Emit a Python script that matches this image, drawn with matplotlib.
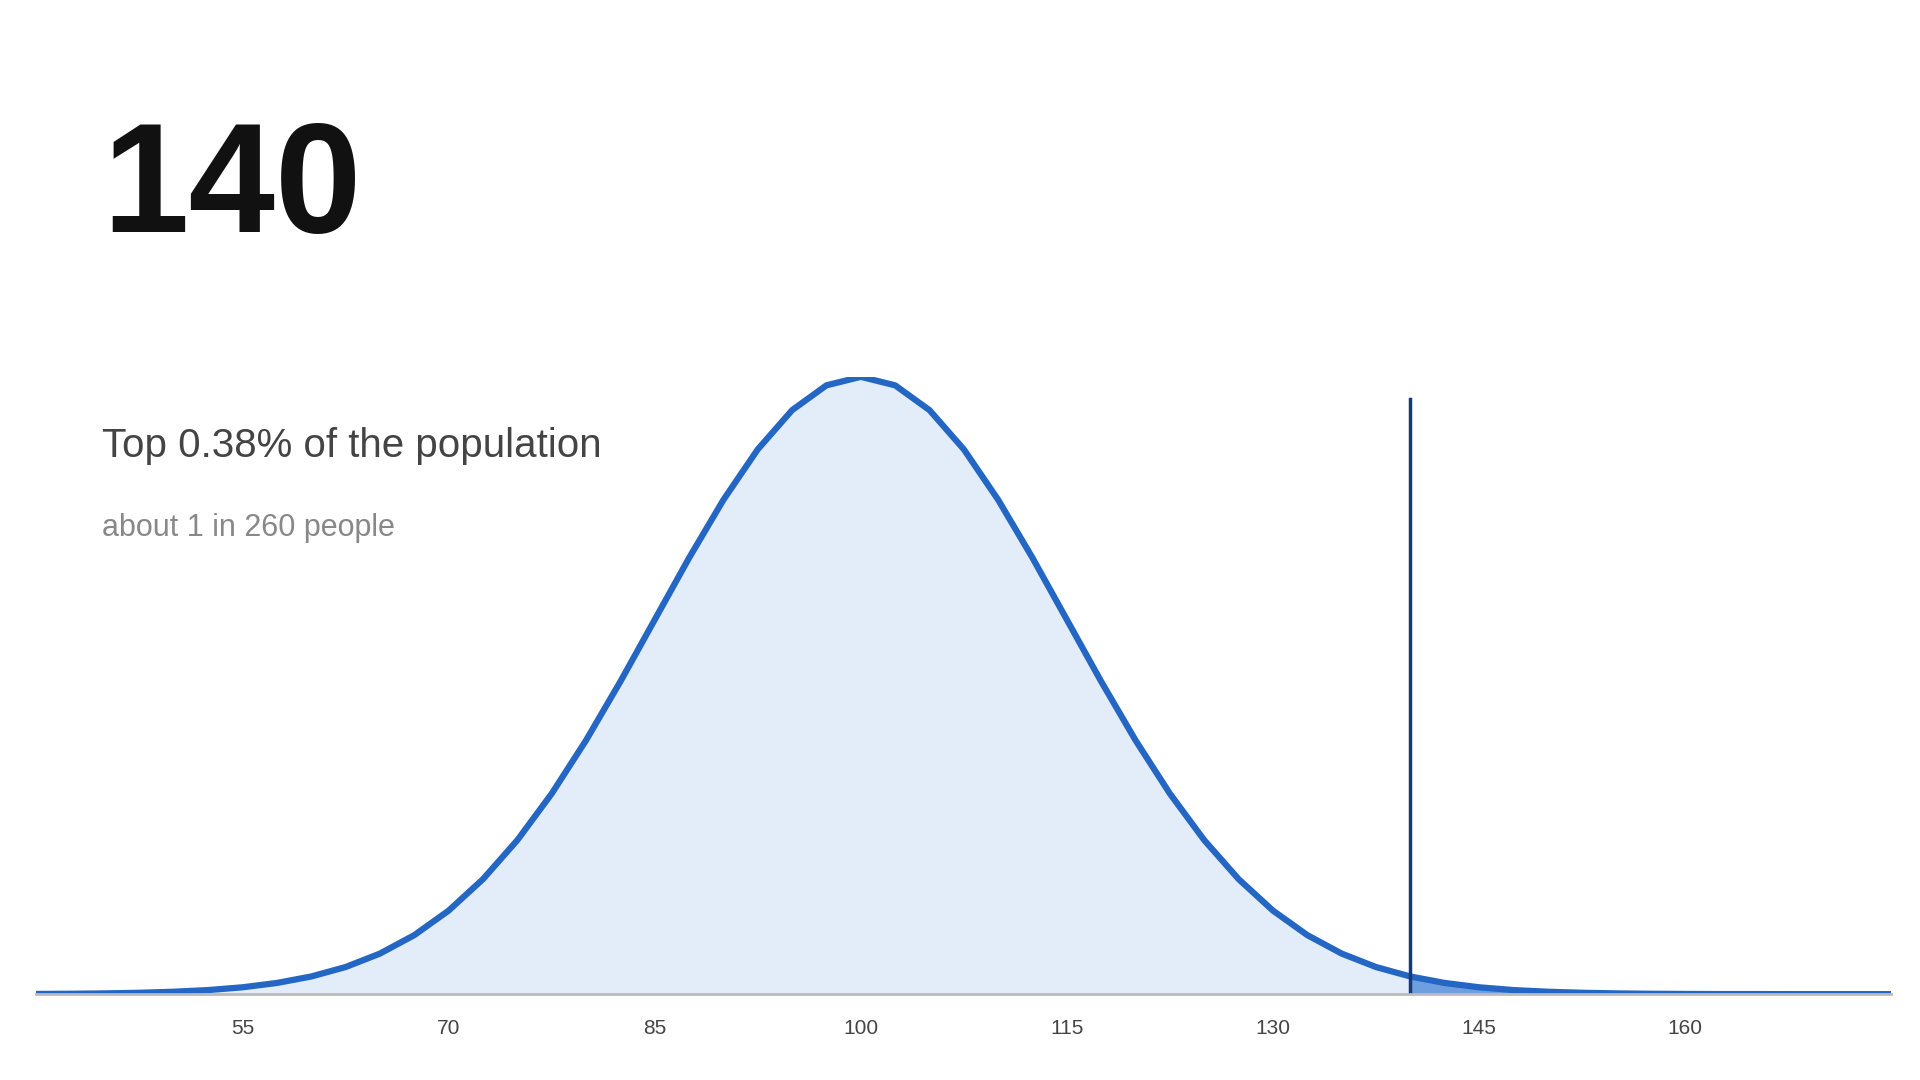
import matplotlib
matplotlib.use("Agg")
import matplotlib.pyplot as plt
import numpy as np

x_vals = [40 + 2.5 * i for i in range(55)]
# relative density heights (peak = 1 at 100)
half = [1.0, .9862, .9460, .8825, .8007, .7066, .6065, .5063, .4111, .3247, .2494,
        .1863, .1353, .0956, .0657, .0439, .0286, .0181, .0111, .0066, .0039, .0022,
        .0012, .0006, .0003, .0001, .0001, .0, .0, .0, .0]
heights = half[24:0:-1] + half[:31]
score = 140
marker_top = 0.964
ticks = [55, 70, 85, 100, 115, 130, 145, 160]
title = "140"
line1 = "Top 0.38% of the population"
line2 = "about 1 in 260 people"

plt.rcParams['font.family'] = ['Liberation Sans', 'DejaVu Sans']
fig = plt.figure(figsize=(19.2, 10.8), dpi=100)
ax = fig.add_axes([0.019, 0.0795, 0.966, 0.5716])
xs = np.array(x_vals); ys = np.array(heights)
ax.fill_between(xs, 0, ys, color="#e3ecf9", lw=0)
ax.fill_between(xs, 0, ys, where=xs >= score, color="#6f9ee0", lw=0)
ax.plot(xs, ys, color="#2366c4", lw=4.5, solid_capstyle="round")
ax.plot([score, score], [0, marker_top], color="#17387a", lw=2.5)
ax.set_xlim(40, 175)
ax.set_ylim(0, 1.0)
ax.set_xticks(ticks)
ax.tick_params(axis='x', length=0, labelsize=15, labelcolor="#444444", pad=18)
ax.set_yticks([])
for s in ['top', 'right', 'left']:
    ax.spines[s].set_visible(False)
ax.spines['bottom'].set_color("#bbbbbb")
ax.spines['bottom'].set_linewidth(2)
ax.patch.set_alpha(0)

fig.text(0.053, 0.785, title, fontsize=112, fontweight='bold', color="#111111", va='baseline')
fig.text(0.053, 0.587, line1, fontsize=29, color="#444444", va='center')
fig.text(0.053, 0.511, line2, fontsize=22, color="#888888", va='center')
fig.savefig("out.png", dpi=100)
